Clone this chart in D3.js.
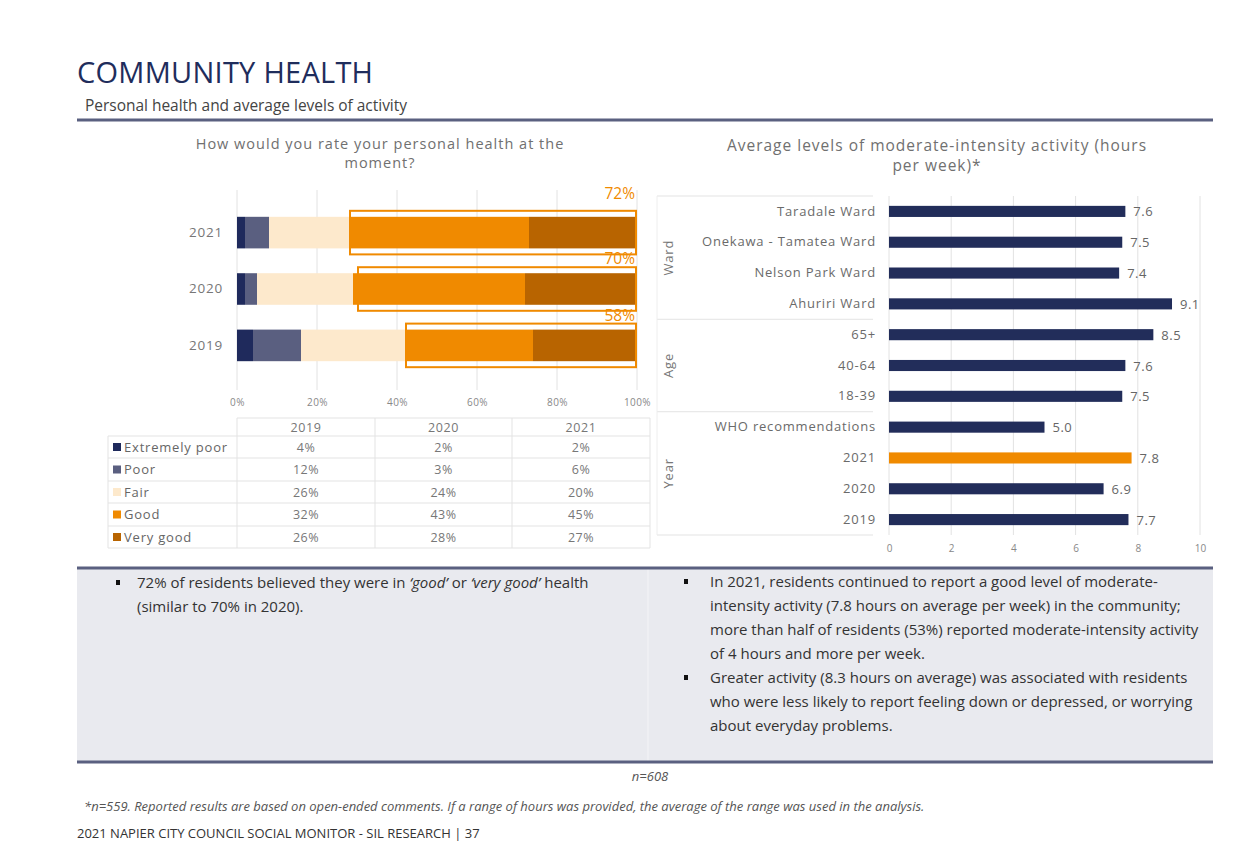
<!DOCTYPE html>
<html>
<head>
<meta charset="utf-8">
<script src="https://cdn.jsdelivr.net/npm/d3@7"></script>
<style>
  body { margin: 0; background: #fff; }
  svg { display: block; }
</style>
</head>
<body>
<div id="chart"></div>
<script>
// ---- data ----
const healthYears = ["2021", "2020", "2019"];
const healthCats = ["Extremely poor", "Poor", "Fair", "Good", "Very good"];
const health2021 = [2, 6, 20, 45, 27];
const health2020 = [2, 3, 24, 43, 28];
const health2019 = [4, 12, 26, 32, 26];
const goodTotals = [72, 70, 58]; // 2021, 2020, 2019
const tableYears = ["2019", "2020", "2021"];
const pctTicks = [0, 20, 40, 60, 80, 100];

const activityLabels = ["Taradale Ward", "Onekawa - Tamatea Ward", "Nelson Park Ward", "Ahuriri Ward",
  "65+", "40-64", "18-39", "WHO recommendations", "2021", "2020", "2019"];
const activityValues = [7.6, 7.5, 7.4, 9.1, 8.5, 7.6, 7.5, 5.0, 7.8, 6.9, 7.7];
const activityGroups = ["Ward", "Ward", "Ward", "Ward", "Age", "Age", "Age", "Year", "Year", "Year", "Year"];
const activityTicks = [0, 2, 4, 6, 8, 10];

const catColors = ["#1f2a5c", "#5a5f80", "#fde9cc", "#f08a00", "#b86400"];
const chartFont = "Open Sans, sans-serif";
const textFont = "Open Sans, sans-serif";

const W = 1250, H = 863;
const svg = d3.select("#chart").append("svg").attr("width", W).attr("height", H);

// ---- header ----
svg.append("text").attr("x", 77).attr("y", 83).text("COMMUNITY HEALTH")
  .style("font-family", "Open Sans, sans-serif").style("font-size", "29px").style("fill", "#1f2d5c")
  .attr("textLength", 296);
svg.append("text").attr("x", 85).attr("y", 111).text("Personal health and average levels of activity")
  .style("font-family", "Open Sans, sans-serif").style("font-size", "15.5px").style("fill", "#444")
  .attr("textLength", 322);
svg.append("line").attr("x1", 77).attr("x2", 1213).attr("y1", 120).attr("y2", 120)
  .attr("stroke", "#5a6080").attr("stroke-width", 3);

// ---- left chart: personal health ----
const left = svg.append("g");
left.selectAll("text.ltitle").data(["How would you rate your personal health at the", "moment?"])
  .join("text").attr("class", "ltitle")
  .attr("x", 380).attr("y", (d, i) => 149 + i * 19).attr("text-anchor", "middle")
  .style("font-family", chartFont).style("font-size", "14.5px").style("letter-spacing", "1px").style("fill", "#707070")
  .text(d => d);

const x = d3.scaleLinear().domain([0, 100]).range([237, 637]);
const y = d3.scaleBand().domain(healthYears).range([192, 386]).padding(0.44);

left.selectAll("line.grid").data(pctTicks).join("line").attr("class", "grid")
  .attr("x1", d => x(d)).attr("x2", d => x(d)).attr("y1", 190).attr("y2", 390)
  .attr("stroke", "#e2e2e2");

const xAxis = left.append("g").attr("transform", "translate(0,390)")
  .call(d3.axisBottom(x).tickValues(pctTicks).tickFormat(d => d + "%").tickSize(0).tickPadding(9));
xAxis.select(".domain").remove();
xAxis.selectAll("text").style("font-family", chartFont).style("font-size", "10px").style("letter-spacing", "0.4px").style("fill", "#888");

const yAxis = left.append("g").attr("transform", "translate(223,0)")
  .call(d3.axisLeft(y).tickSize(0).tickPadding(0));
yAxis.select(".domain").remove();
yAxis.selectAll("text").style("font-family", chartFont).style("font-size", "13.5px").style("letter-spacing", "0.8px").style("fill", "#777");

const healthRows = [health2021, health2020, health2019];
const stacked = [];
healthYears.forEach((yr, r) => {
  let acc = 0;
  healthRows[r].forEach((v, c) => {
    stacked.push({ year: yr, cat: c, x0: acc, x1: acc + v });
    acc += v;
  });
});

left.selectAll("rect.seg").data(stacked).join("rect").attr("class", "seg")
  .attr("x", d => x(d.x0)).attr("width", d => x(d.x1) - x(d.x0))
  .attr("y", d => y(d.year)).attr("height", y.bandwidth())
  .attr("fill", d => catColors[d.cat]);

// highlight boxes around good + very good
const boxes = healthYears.map((yr, r) => ({ year: yr, start: 100 - goodTotals[r], total: goodTotals[r] }));
left.selectAll("rect.box").data(boxes).join("rect").attr("class", "box")
  .attr("x", d => x(d.start) + 1).attr("width", d => x(100) - x(d.start) - 2)
  .attr("y", d => y(d.year) - 6).attr("height", y.bandwidth() + 12)
  .attr("fill", "none").attr("stroke", "#f08a00").attr("stroke-width", 2);
left.selectAll("text.box").data(boxes).join("text").attr("class", "box")
  .attr("x", x(100) - 2).attr("y", (d, i) => y(d.year) - (i === 0 ? 18 : 9)).attr("text-anchor", "end")
  .style("font-family", textFont).style("font-size", "15.5px").style("fill", "#f08a00")
  .text(d => d.total + "%");

// data table
const tbl = left.append("g");
const colX = [108, 237, 375, 512, 650];
const rowY = [418, 436, 458, 481, 503, 526, 548];
const tGrid = "#e3e3e3";
rowY.forEach((ry, i) => {
  tbl.append("line").attr("x1", i === 0 ? 237 : 108).attr("x2", 650).attr("y1", ry).attr("y2", ry)
    .attr("stroke", tGrid);
});
colX.forEach((cx, i) => {
  tbl.append("line").attr("x1", cx).attr("x2", cx).attr("y1", i === 0 ? 436 : 418).attr("y2", 548)
    .attr("stroke", tGrid);
});
tbl.selectAll("text.hdr").data(tableYears).join("text").attr("class", "hdr")
  .attr("x", (d, i) => (colX[i + 1] + colX[i + 2]) / 2).attr("y", 432).attr("text-anchor", "middle")
  .style("font-family", chartFont).style("font-size", "12.5px").style("letter-spacing", "0.6px").style("fill", "#777").text(d => d);
const tableData = { "2019": health2019, "2020": health2020, "2021": health2021 };
healthCats.forEach((cat, r) => {
  const cy = (rowY[r + 1] + rowY[r + 2]) / 2;
  tbl.append("rect").attr("x", 113).attr("y", cy - 4).attr("width", 8).attr("height", 8)
    .attr("fill", catColors[r]);
  tbl.append("text").attr("x", 124).attr("y", cy + 4.5)
    .style("font-family", chartFont).style("font-size", "13px").style("letter-spacing", "0.8px").style("fill", "#666").text(cat);
  tableYears.forEach((yr, c) => {
    tbl.append("text").attr("x", (colX[c + 1] + colX[c + 2]) / 2).attr("y", cy + 4.5)
      .attr("text-anchor", "middle")
      .style("font-family", chartFont).style("font-size", "12.5px").style("letter-spacing", "0.5px").style("fill", "#777")
      .text(tableData[yr][r] + "%");
  });
});

// ---- right chart: activity ----
const right = svg.append("g");
right.selectAll("text.rtitle").data(["Average levels of moderate-intensity activity (hours", "per week)*"])
  .join("text").attr("class", "rtitle")
  .attr("x", 937).attr("y", (d, i) => 151 + i * 20).attr("text-anchor", "middle")
  .style("font-family", chartFont).style("font-size", "15.5px").style("letter-spacing", "1px").style("fill", "#707070")
  .text(d => d);

const ax = d3.scaleLinear().domain([0, 10]).range([889, 1200]);
const ay = d3.scaleBand().domain(activityLabels).range([196, 535]).paddingInner(0.64).paddingOuter(0.32);

right.selectAll("line.grid").data(activityTicks).join("line").attr("class", "grid")
  .attr("x1", d => ax(d)).attr("x2", d => ax(d)).attr("y1", 196).attr("y2", 535)
  .attr("stroke", "#e2e2e2");

const axAxis = right.append("g").attr("transform", "translate(0,535)")
  .call(d3.axisBottom(ax).tickValues(activityTicks).tickSize(0).tickPadding(10));
axAxis.select(".domain").remove();
axAxis.selectAll("text").style("font-family", chartFont).style("font-size", "10px").style("fill", "#888");

const ayAxis = right.append("g").attr("transform", "translate(876,0)")
  .call(d3.axisLeft(ay).tickSize(0).tickPadding(0));
ayAxis.select(".domain").remove();
ayAxis.selectAll("text").style("font-family", chartFont).style("font-size", "13px").style("letter-spacing", "0.8px").style("fill", "#6a6a6a");

// group separators and labels
const groupNames = Array.from(new Set(activityGroups));
const groupSpans = groupNames.map(g => {
  const items = activityLabels.filter((l, i) => activityGroups[i] === g);
  const top = ay(items[0]) - (ay.step() - ay.bandwidth()) / 2;
  const bottom = ay(items[items.length - 1]) + ay.bandwidth() + (ay.step() - ay.bandwidth()) / 2;
  return { name: g, top: top, bottom: bottom };
});
right.selectAll("line.sep").data([groupSpans[0].top].concat(groupSpans.map(d => d.bottom)))
  .join("line").attr("class", "sep")
  .attr("x1", 657).attr("x2", 873).attr("y1", d => d).attr("y2", d => d)
  .attr("stroke", "#e3e3e3");
right.append("line").attr("x1", 657).attr("x2", 657).attr("y1", groupSpans[0].top).attr("y2", 535)
  .attr("stroke", "#eeeeee");
right.selectAll("text.grp").data(groupSpans).join("text").attr("class", "grp")
  .attr("transform", d => `translate(673,${(d.top + d.bottom) / 2}) rotate(-90)`)
  .attr("text-anchor", "middle")
  .style("font-family", chartFont).style("font-size", "13px").style("letter-spacing", "0.8px").style("fill", "#777")
  .text(d => d.name);

right.selectAll("rect.bar").data(activityLabels).join("rect").attr("class", "bar")
  .attr("x", ax(0)).attr("y", d => ay(d)).attr("height", ay.bandwidth())
  .attr("width", (d, i) => ax(activityValues[i]) - ax(0))
  .attr("fill", (d, i) => d === "2021" ? "#f08a00" : "#222d5a");
right.selectAll("text.val").data(activityLabels).join("text").attr("class", "val")
  .attr("x", (d, i) => ax(activityValues[i]) + 8).attr("y", d => ay(d) + ay.bandwidth() / 2 + 5)
  .style("font-family", chartFont).style("font-size", "13px").style("letter-spacing", "0.5px").style("fill", "#666")
  .text((d, i) => activityValues[i].toFixed(1));

// ---- commentary box ----
svg.append("rect").attr("x", 77).attr("y", 569).attr("width", 1136).attr("height", 192).attr("fill", "#e9eaef");
svg.append("line").attr("x1", 648).attr("x2", 648).attr("y1", 569).attr("y2", 761).attr("stroke", "#f4f4f7");
svg.append("line").attr("x1", 77).attr("x2", 1213).attr("y1", 568).attr("y2", 568)
  .attr("stroke", "#5a6080").attr("stroke-width", 3);
svg.append("line").attr("x1", 77).attr("x2", 1213).attr("y1", 762).attr("y2", 762)
  .attr("stroke", "#5a6080").attr("stroke-width", 3);

const body = svg.append("g").style("font-family", textFont).style("font-size", "15px").style("fill", "#333");
function bullet(bx, by) {
  body.append("rect").attr("x", bx).attr("y", by - 8).attr("width", 4).attr("height", 5).attr("fill", "#111");
}
bullet(116, 588);
const l1 = body.append("text").attr("x", 137).attr("y", 588);
l1.append("tspan").text("72% of residents believed they were in ");
l1.append("tspan").style("font-style", "italic").text("‘good’");
l1.append("tspan").text(" or ");
l1.append("tspan").style("font-style", "italic").text("‘very good’");
l1.append("tspan").text(" health");
body.append("text").attr("x", 137).attr("y", 612).text("(similar to 70% in 2020).");

const rightLines = [
  "In 2021, residents continued to report a good level of moderate-",
  "intensity activity (7.8 hours on average per week) in the community;",
  "more than half of residents (53%) reported moderate-intensity activity",
  "of 4 hours and more per week.",
  "Greater activity (8.3 hours on average) was associated with residents",
  "who were less likely to report feeling down or depressed, or worrying",
  "about everyday problems."
];
bullet(684, 587);
bullet(684, 683);
body.selectAll("text.rl").data(rightLines).join("text").attr("class", "rl")
  .attr("x", 710).attr("y", (d, i) => 587 + i * 24).text(d => d);

// ---- footer ----
svg.append("text").attr("x", 650).attr("y", 781).attr("text-anchor", "middle").text("n=608")
  .style("font-family", textFont).style("font-size", "13px").style("font-style", "italic").style("fill", "#555");
svg.append("text").attr("x", 84).attr("y", 811)
  .text("*n=559. Reported results are based on open-ended comments. If a range of hours was provided, the average of the range was used in the analysis.")
  .style("font-family", textFont).style("font-size", "13px").style("font-style", "italic").style("fill", "#555");
svg.append("text").attr("x", 77).attr("y", 838).text("2021 NAPIER CITY COUNCIL SOCIAL MONITOR - SIL RESEARCH | 37")
  .style("font-family", textFont).style("font-size", "13px").style("fill", "#333");
</script>
</body>
</html>
